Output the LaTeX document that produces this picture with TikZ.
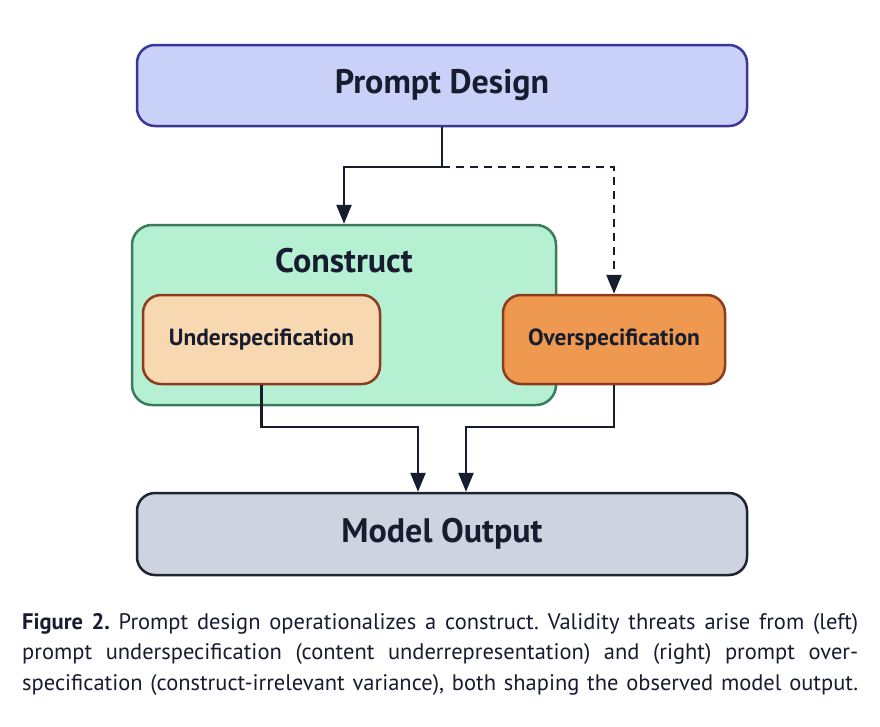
\documentclass[tikz,border=0pt]{standalone}
\usepackage{fontspec}
\setmainfont{PT Sans}
\usetikzlibrary{arrows.meta}
\frenchspacing
\definecolor{pdfill}{HTML}{C9D1F9}
\definecolor{pddraw}{HTML}{3B3799}
\definecolor{cfill}{HTML}{B5F0D2}
\definecolor{cdraw}{HTML}{3B7B5E}
\definecolor{ufill}{HTML}{F7D8B0}
\definecolor{ofill}{HTML}{EE994F}
\definecolor{uodraw}{HTML}{8C3B1E}
\definecolor{mfill}{HTML}{CDD3DF}
\definecolor{mdraw}{HTML}{1E2433}
\definecolor{ink}{HTML}{171C2E}
\tikzset{
  box/.style={rectangle, rounded corners=18pt, line width=2.5pt, inner sep=0pt, text=ink, font=\bfseries},
  big/.style={font=\fontsize{34}{40}\selectfont\bfseries},
  small/.style={font=\fontsize{23.4}{28}\selectfont\bfseries},
  arr/.style={draw=ink, line width=2.5pt, -{Triangle[length=19pt,width=15pt]}},
  capline/.style={anchor=base west, inner sep=0pt, text=ink, font=\fontsize{22.5}{26}\selectfont},
}
\begin{document}
\begin{tikzpicture}[x=1pt,y=-1pt]
\useasboundingbox (0,0) rectangle (880,726);
\fill[white] (0,0) rectangle (880,726);
\node[box, big, fill=pdfill, draw=pddraw, minimum width=610pt, minimum height=81pt] (pd) at (442,85.5) {Prompt Design};
\node[box, fill=cfill, draw=cdraw, rounded corners=20pt, minimum width=424pt, minimum height=180pt] (cons) at (344,315) {};
\node[text=ink, big, inner sep=0pt] (clab) at (344,261) {Construct};
\node[box, small, fill=ufill, draw=uodraw, minimum width=237pt, minimum height=89pt] (under) at (261.5,339.5) {Underspecification};
\node[box, small, fill=ofill, draw=uodraw, minimum width=222pt, minimum height=89pt] (over) at (614,339.5) {Overspecification};
\node[box, big, fill=mfill, draw=mdraw, minimum width=610pt, minimum height=82pt] (model) at (442,534) {Model Output};
\coordinate (j) at (442,167);
\coordinate (m1) at (418,427);
\coordinate (m2) at (466,427);
\draw[arr] (pd.south) -- (j) -| (cons.north);
\draw[arr, dash pattern=on 8pt off 6pt] (j) -| (over.north);
\draw[arr] (under.south) |- (m1) -- (m1 |- model.north);
\draw[arr] (over.south) |- (m2) -- (m2 |- model.north);
\node[capline] (c1) at (22,629) {\makebox[836pt][s]{\textbf{Figure 2.} Prompt design operationalizes a construct. Validity threats arise from (left)}};
\node[capline] (c2) at (22,659.5) {\makebox[836pt][s]{prompt underspecification (content underrepresentation) and (right) prompt over-}};
\node[capline] (c3) at (22,690) {\makebox[836pt][s]{specification (construct-irrelevant variance), both shaping the observed model output.}};
\end{tikzpicture}
\end{document}
